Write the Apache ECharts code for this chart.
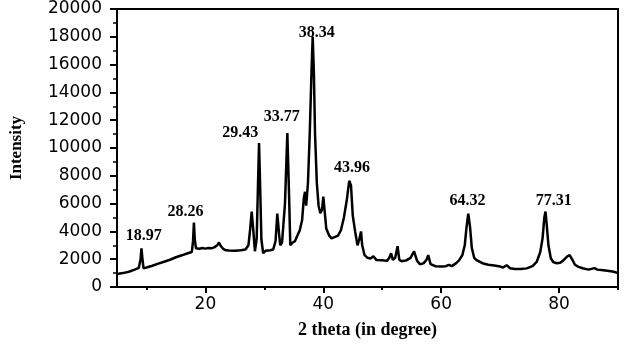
<!DOCTYPE html>
<html>
<head>
<meta charset="utf-8">
<script src="https://cdn.jsdelivr.net/npm/echarts@6/dist/echarts.min.js"></script>
<style>
html,body{margin:0;padding:0;background:#fff;}
#chart{width:624px;height:344px;}
</style>
</head>
<body>
<div id="chart"></div>
<script>
// 2 theta (degree)
const twoTheta = [
5.0,6.0,7.0,8.0,8.7,9.0,9.15,9.3,9.5,10.0,11.0,12.0,13.0,14.0,15.0,16.0,17.0,17.7,17.9,18.05,18.2,18.4,
19.0,19.5,20.0,20.5,21.0,21.5,22.0,22.3,22.6,23.0,23.5,24.0,25.0,26.0,26.8,27.3,27.6,27.85,28.1,28.4,
28.7,28.9,29.1,29.3,29.5,29.8,30.2,31.0,31.5,31.9,32.2,32.5,32.7,33.0,33.5,33.9,34.2,34.4,34.8,35.2,
35.6,36.0,36.4,36.7,36.9,37.1,37.4,37.7,38.0,38.2,38.4,38.6,38.9,39.2,39.5,39.8,40.0,40.2,40.5,41.0,
41.4,42.0,42.5,43.0,43.5,44.0,44.4,44.7,45.0,45.4,45.8,46.1,46.4,46.6,47.0,47.5,48.0,48.5,49.0,50.0,
50.8,51.2,51.5,51.8,52.2,52.6,52.9,53.3,54.0,54.8,55.4,55.9,56.4,57.0,57.5,57.8,58.2,59.0,60.0,60.8,
61.3,61.8,62.5,63.0,63.6,64.0,64.3,64.6,64.9,65.2,65.6,66.0,67.0,68.0,69.0,69.8,70.5,71.1,71.7,72.5,
73.5,74.5,75.5,76.2,76.8,77.2,77.5,77.7,77.9,78.2,78.6,79.0,79.6,80.2,80.8,81.4,81.8,82.2,82.7,83.3,
84.0,85.0,86.0,86.5,87.5,88.5,89.3,90.0
];
// Intensity
const intensity = [
930,1000,1100,1250,1380,2000,2780,2100,1350,1400,1530,1680,1820,1960,2140,2280,2430,2520,3300,4640,3400,2780,
2750,2800,2760,2800,2780,2850,3000,3200,2950,2750,2640,2620,2600,2640,2700,3000,4200,5430,4200,2570,
3500,7000,10350,7000,3400,2430,2600,2640,2700,3300,5280,3800,3000,3200,6000,11070,6500,3000,3200,3300,
3700,4070,4800,6400,6850,5850,7500,11000,15500,18000,15500,11000,7500,5850,5300,5600,6500,5600,4210,3700,
3500,3600,3700,4100,5000,6300,7640,7300,5140,4000,3000,3400,4000,3000,2290,2100,2050,2210,1950,1930,
1880,2100,2430,1950,2100,2930,1950,1860,1900,2100,2570,1900,1640,1700,1950,2290,1650,1500,1480,1500,
1600,1500,1700,1900,2300,3000,4300,5280,4300,2800,2100,1930,1710,1600,1550,1500,1400,1570,1350,1300,
1290,1340,1500,1800,2500,3500,5000,5430,4500,3000,2070,1800,1710,1750,1950,2200,2290,2000,1600,1450,
1350,1250,1360,1250,1200,1150,1100,1000
];
// Peak annotations: text and anchor position (data units)
const peakText = ["18.97","28.26","29.43","33.77","38.34","43.96","64.32","77.31"];
const peakX = [9.55,16.64,25.9,32.94,38.9,44.85,64.48,79.08];
const peakY = [3680,5430,11070,12210,18280,8570,6210,6210];

const xMajorTicks = [20,40,60,80];
const xMinorTicks = [10,30,50,70,90];

const chart = echarts.init(document.getElementById('chart'), null, {renderer:'canvas'});
const serif = '"Liberation Serif","Times New Roman",serif';
const sans = '"DejaVu Sans",sans-serif';

chart.setOption({
  animation:false,
  backgroundColor:'#fff',
  grid:{left:114,top:9,right:6,bottom:55,show:true,borderColor:'#000',borderWidth:2,backgroundColor:'transparent'},
  xAxis:[{
    type:'value',min:5,max:90,
    name:'2 theta (in degree)',nameLocation:'middle',nameGap:34,
    nameTextStyle:{fontFamily:serif,fontWeight:'bold',fontSize:18,color:'#000'},
    axisLine:{show:true,onZero:false,lineStyle:{color:'#000',width:2}},
    axisTick:{show:true,customValues:xMajorTicks,length:6,lineStyle:{color:'#000',width:2}},
    axisLabel:{customValues:xMajorTicks,margin:9,fontFamily:sans,fontSize:17,color:'#000'},
    splitLine:{show:false}
  },{
    type:'value',min:5,max:90,position:'bottom',
    axisLine:{show:false},
    axisTick:{show:true,customValues:xMinorTicks,length:3,lineStyle:{color:'#000',width:2}},
    axisLabel:{show:false},
    splitLine:{show:false}
  }],
  yAxis:{
    type:'value',min:0,max:20000,interval:2000,
    name:'Intensity',nameLocation:'middle',nameGap:92,
    nameTextStyle:{fontFamily:serif,fontWeight:'bold',fontSize:17,color:'#000'},
    axisLine:{show:true,lineStyle:{color:'#000',width:2}},
    axisTick:{show:true,length:7,lineStyle:{color:'#000',width:2}},
    minorTick:{show:true,splitNumber:2,length:4,lineStyle:{color:'#000',width:1.5}},
    axisLabel:{margin:15,fontFamily:sans,fontSize:17,color:'#000',formatter:v=>String(v)},
    splitLine:{show:false}
  },
  series:[{
    type:'line',
    xAxisIndex:0,
    data:twoTheta.map((x,i)=>[x,intensity[i]]),
    showSymbol:false,
    symbol:'none',
    lineStyle:{color:'#000',width:2.5},
    markPoint:{
      symbol:'circle',symbolSize:0,
      label:{show:true,position:'inside',fontFamily:serif,fontWeight:'bold',fontSize:16,color:'#000'},
      data:peakText.map((t,i)=>({coord:[peakX[i],peakY[i]],value:t,label:{formatter:t}}))
    }
  }]
});
</script>
</body>
</html>
